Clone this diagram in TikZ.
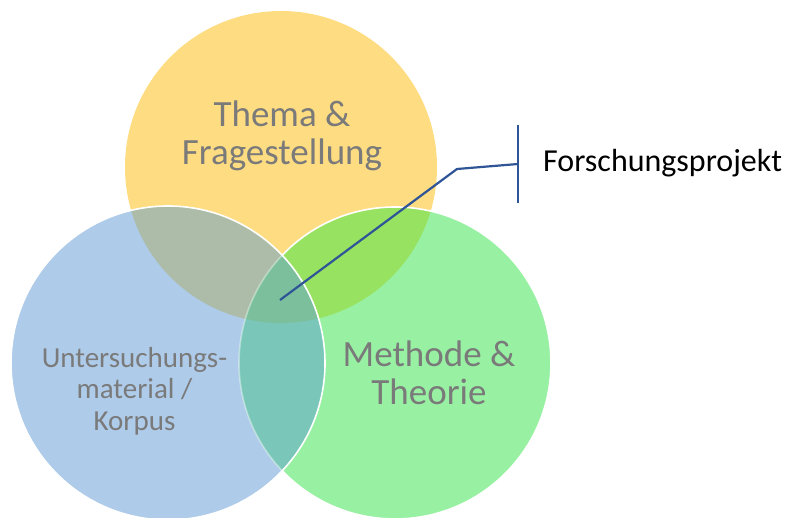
\documentclass[tikz,border=0pt]{standalone}
\usepackage{fontspec}
\setmainfont{Carlito}
\definecolor{gelb}{RGB}{254,220,129}
\definecolor{blau}{RGB}{174,203,233}
\definecolor{gruen}{RGB}{152,241,162}
\definecolor{gelbblau}{RGB}{173,188,168}
\definecolor{gelbgruen}{RGB}{152,226,98}
\definecolor{blaugruen}{RGB}{122,199,186}
\definecolor{alle}{RGB}{123,191,157}
\definecolor{grau}{RGB}{122,122,122}
\definecolor{linienblau}{RGB}{47,85,151}
\tikzset{
  kreistext/.style={text=grau,align=center,inner sep=0pt},
  rand/.style={draw=white,line width=1.6pt},
  linie/.style={draw=linienblau,line width=2.2pt}
}
\begin{document}
\begin{tikzpicture}[x=1pt,y=-1pt]
  %rahmen
  	\useasboundingbox (0,0) rectangle (785,518);
  %mittelpunkte
  	\coordinate (T) at (281,167);
  	\coordinate (K) at (168,363);
  	\coordinate (M) at (395,363);

  %kreise
  	\fill[gelb] (T) circle (156);
  	\fill[blau] (K) circle (157);
  	\fill[gruen] (M) circle (156);

  %schnittflaechen
  	\begin{scope}
  	  \clip (T) circle (156);
  	  \fill[gelbblau] (K) circle (157);
  	  \fill[gelbgruen] (M) circle (156);
  	\end{scope}
  	\begin{scope}
  	  \clip (K) circle (157);
  	  \fill[blaugruen] (M) circle (156);
  	  \clip (T) circle (156);
  	  \fill[alle] (M) circle (156);
  	\end{scope}

  %weisse raender
  	\begin{scope}[even odd rule]
  	  \clip (K) circle (157) (0,0) rectangle (785,518);
  	  \draw[rand] (M) circle (156);
  	\end{scope}
  	\begin{scope}
  	  \clip (K) circle (157);
  	  \draw[rand,draw opacity=0.4] (M) circle (156);
  	\end{scope}
  	\draw[rand] (K) circle (157);

  %beschriftungen
  	\node[kreistext,font=\fontsize{37}{38}\selectfont] (thema) at (282,136) {Thema \&\\Fragestellung};
  	\node[kreistext,font=\fontsize{29}{31.5}\selectfont] (korpus) at (134.5,391) {Untersuchungs-\\material /\\Korpus};
  	\node[kreistext,font=\fontsize{37}{38}\selectfont] (methode) at (429,372.5) {Methode \&\\Theorie};

  %legende
  	\coordinate (zentrum) at (280,300);
  	\coordinate (knick) at (457,169);
  	\coordinate (strich) at (518,164);
  	\draw[linie] (zentrum) -- (knick) -- (strich);
  	\draw[linie] (strich) ++(0,-39) -- ++(0,78);
  	\node[anchor=base west,font=\fontsize{32}{36}\selectfont,inner sep=0pt] (projekt) at (543,172) {Forschungsprojekt};
\end{tikzpicture}
\end{document}
